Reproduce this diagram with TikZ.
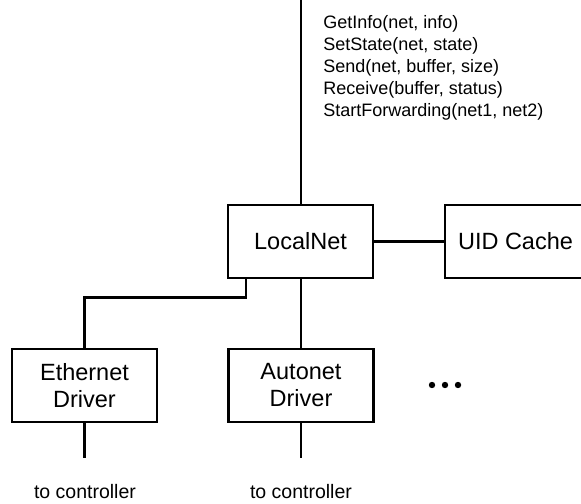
\documentclass[tikz,border=0pt]{standalone}
\usepackage{fontspec}
\setmainfont{Liberation Sans}
\usetikzlibrary{calc}
\begin{document}
\begin{tikzpicture}[x=1bp,y=-1bp,
  line width=2.5bp,
  modbox/.style={draw=black, minimum width=145bp, minimum height=73bp, inner sep=0pt, align=center,
    font=\fontsize{23.5bp}{27bp}\selectfont},
  apitext/.style={anchor=base west, inner sep=0pt, font=\fontsize{18bp}{22bp}\selectfont},
  ctrltext/.style={inner sep=0pt, font=\fontsize{19.5bp}{23bp}\selectfont},
  wire/.style={draw=black, line width=2.5bp}]
\useasboundingbox (0,0) rectangle (581,504);
\begin{scope}
\clip (0,0) rectangle (581,504);
\node[modbox] (ln) at (300.5,241.5) {LocalNet};
\node[modbox, minimum width=141bp] (uid) at (515.5,241.5) {UID Cache};
\node[modbox] (eth) at (84.5,385.5) {Ethernet\\Driver};
\node[modbox] (auto) at (301,385.5) {Autonet\\Driver};
\coordinate (top) at (301,0);
\coordinate (ethend) at (84.5,458);
\coordinate (autoend) at (301,458);
\coordinate (lnleft) at ($(ln.south west)+(19,0)$);
\draw[wire] (top) -- (top |- ln.north);
\draw[wire] (auto.north |- ln.south) -- (auto.north);
\draw[wire] (ln.east) -- (uid.west);
\draw[wire] (lnleft) -- ++(0,18) -| (eth.north);
\draw[wire] (eth.south) -- (ethend);
\draw[wire] (auto.south) -- (autoend);
\node[apitext] (t1) at (322,28.5) {GetInfo(net, info)};
\node[apitext] (t2) at (322,50.5) {SetState(net, state)};
\node[apitext] (t3) at (322,72.5) {Send(net, buffer, size)};
\node[apitext] (t4) at (322,94.5) {Receive(buffer, status)};
\node[apitext] (t5) at (322,116.5) {StartForwarding(net1, net2)};
\node[ctrltext] (c1) at (85,492) {to controller};
\node[ctrltext] (c2) at (301,492) {to controller};
\fill (432,385) circle (3.2bp);
\fill (445,385) circle (3.2bp);
\fill (458,385) circle (3.2bp);
\end{scope}
\end{tikzpicture}
\end{document}
